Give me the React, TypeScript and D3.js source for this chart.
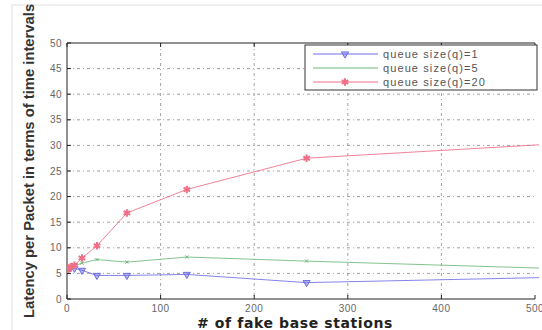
import React, { useEffect, useRef } from "react";
import * as d3 from "d3";

// number of fake base stations
const stations = [1, 2, 4, 8, 16, 32, 64, 128, 256, 512];
const queue1 = [5.9, 6.0, 6.1, 6.0, 5.6, 4.6, 4.6, 4.8, 3.2, 4.2];
const queue5 = [5.8, 6.0, 6.2, 6.5, 7.0, 7.7, 7.2, 8.2, 7.4, 6.0];
const queue20 = [5.8, 6.0, 6.3, 6.6, 8.0, 10.4, 16.8, 21.4, 27.5, 30.2];
const xTicks = [0, 100, 200, 300, 400, 500];
const yTicks = [0, 5, 10, 15, 20, 25, 30, 35, 40, 45, 50];
const seriesNames = ["queue size(q)=1", "queue size(q)=5", "queue size(q)=20"];

export default function App() {
  const ref = useRef<SVGSVGElement>(null);

  useEffect(() => {
    const width = 542;
    const height = 330;
    const m = { left: 67, right: 535, top: 43, bottom: 299 };

    const svg = d3.select(ref.current);
    svg.selectAll("*").remove();

    const x = d3.scaleLinear().domain([0, 500]).range([m.left, m.right]);
    const y = d3.scaleLinear().domain([0, 50]).range([m.bottom, m.top]);

    // faint figure frame
    svg
      .append("rect")
      .attr("x", 12)
      .attr("y", 5)
      .attr("width", width)
      .attr("height", height)
      .attr("fill", "#fff")
      .attr("stroke", "#e2e2e2");

    svg
      .append("defs")
      .append("clipPath")
      .attr("id", "plotclip")
      .append("rect")
      .attr("x", m.left)
      .attr("y", m.top)
      .attr("width", m.right - m.left + 4)
      .attr("height", m.bottom - m.top);

    // grid
    const grid = svg.append("g").attr("stroke", "#8a8a8a").attr("stroke-width", 0.8)
      .attr("stroke-dasharray", "3,3,1,3");
    grid
      .selectAll(".gy")
      .data(yTicks.slice(1, -1))
      .join("line")
      .attr("x1", m.left)
      .attr("x2", m.right)
      .attr("y1", (d) => y(d))
      .attr("y2", (d) => y(d));
    grid
      .selectAll(".gx")
      .data(xTicks.slice(1, -1))
      .join("line")
      .attr("x1", (d) => x(d))
      .attr("x2", (d) => x(d))
      .attr("y1", m.top)
      .attr("y2", m.bottom);

    // axes box
    svg
      .append("path")
      .attr("d", `M${m.right},${m.top}H${m.left}V${m.bottom}H${m.right}`)
      .attr("fill", "none")
      .attr("stroke", "#222")
      .attr("stroke-width", 1);

    const ticks = svg.append("g").attr("stroke", "#222");
    ticks
      .selectAll(".tx")
      .data(xTicks)
      .join("line")
      .attr("x1", (d) => x(d))
      .attr("x2", (d) => x(d))
      .attr("y1", m.bottom)
      .attr("y2", m.bottom - 4);
    ticks
      .selectAll(".tt")
      .data(xTicks)
      .join("line")
      .attr("x1", (d) => x(d))
      .attr("x2", (d) => x(d))
      .attr("y1", m.top)
      .attr("y2", m.top + 4);
    ticks
      .selectAll(".ty")
      .data(yTicks)
      .join("line")
      .attr("x1", m.left)
      .attr("x2", m.left + 4)
      .attr("y1", (d) => y(d))
      .attr("y2", (d) => y(d));

    const tickFont = "Liberation Sans, Arial, sans-serif";
    svg
      .append("g")
      .selectAll("text")
      .data(yTicks)
      .join("text")
      .attr("x", m.left - 5)
      .attr("y", (d) => y(d))
      .attr("dy", "0.35em")
      .attr("text-anchor", "end")
      .attr("font-family", tickFont)
      .attr("font-size", 10)
      .attr("letter-spacing", 0.5)
      .attr("fill", "#666")
      .text((d) => d);
    svg
      .append("g")
      .selectAll("text")
      .data(xTicks)
      .join("text")
      .attr("x", (d) => x(d))
      .attr("y", m.bottom + 13)
      .attr("text-anchor", "middle")
      .attr("font-family", tickFont)
      .attr("font-size", 10)
      .attr("letter-spacing", 0.5)
      .attr("fill", "#666")
      .text((d) => d);

    // axis titles
    svg
      .append("text")
      .attr("transform", `translate(34,318) rotate(-90)`)
      .attr("text-anchor", "start")
      .attr("font-family", tickFont)
      .attr("font-size", 14.8)
      .attr("font-weight", "bold")
      .attr("fill", "#333")
      .text("Latency per Packet in terms of time intervals");
    svg
      .append("text")
      .attr("x", 197)
      .attr("y", 328)
      .attr("text-anchor", "start")
      .attr("font-family", "DejaVu Sans, sans-serif")
      .attr("font-size", 14)
      .attr("letter-spacing", 0.6)
      .attr("font-weight", "bold")
      .attr("fill", "#222")
      .text("# of fake base stations");

    const colors = ["#6e6ee6", "#6fb87a", "#ef6f86"];
    const values = [queue1, queue5, queue20];
    const line = d3
      .line<number>()
      .x((_, i) => x(stations[i]))
      .y((d) => y(d));

    const plot = svg.append("g").attr("clip-path", "url(#plotclip)");
    const tri = d3.symbol().type(d3.symbolTriangle).size(22);
    const star = d3.symbol().type(d3.symbolAsterisk).size(40);
    const cross = d3.symbol().type(d3.symbolX).size(8);
    const markers = [tri, cross, star];

    values.forEach((vals, k) => {
      plot
        .append("path")
        .datum(vals)
        .attr("d", line)
        .attr("fill", "none")
        .attr("stroke", colors[k])
        .attr("stroke-width", 1)
        .attr("stroke-opacity", 0.85);
      plot
        .append("g")
        .selectAll("path")
        .data(vals)
        .join("path")
        .attr("transform", (d, i) =>
          `translate(${x(stations[i])},${y(d)})${k === 0 ? " rotate(180)" : ""}`)
        .attr("d", markers[k]())
        .attr("fill", k === 0 ? colors[k] : "none")
        .attr("fill-opacity", 0.5)
        .attr("stroke", colors[k])
        .attr("stroke-width", k === 2 ? 2 : 1);
    });

    // legend
    const lg = svg.append("g").attr("transform", "translate(305,45)");
    lg.append("rect")
      .attr("width", 232)
      .attr("height", 45)
      .attr("fill", "#fff")
      .attr("stroke", "#333")
      .attr("stroke-width", 1);
    seriesNames.forEach((name, k) => {
      const yy = 9 + k * 14;
      lg.append("line")
        .attr("x1", 8)
        .attr("x2", 73)
        .attr("y1", yy)
        .attr("y2", yy)
        .attr("stroke", colors[k])
        .attr("stroke-width", 1);
      if (k !== 1) {
        lg.append("path")
          .attr("transform", `translate(40,${yy})${k === 0 ? " rotate(180)" : ""}`)
          .attr("d", markers[k]())
          .attr("fill", k === 0 ? colors[k] : "none")
          .attr("fill-opacity", 0.5)
          .attr("stroke", colors[k])
          .attr("stroke-width", k === 2 ? 2 : 1);
      }
      lg.append("text")
        .attr("x", 78)
        .attr("y", yy)
        .attr("dy", "0.35em")
        .attr("font-family", tickFont)
        .attr("font-size", 11)
        .attr("letter-spacing", 1.1)
        .attr("fill", "#555")
        .text(name);
    });
  }, []);

  return (
    <div>
      <style>{`body{margin:0}`}</style>
      <svg ref={ref} width={542} height={330} style={{ display: "block" }} />
    </div>
  );
}
